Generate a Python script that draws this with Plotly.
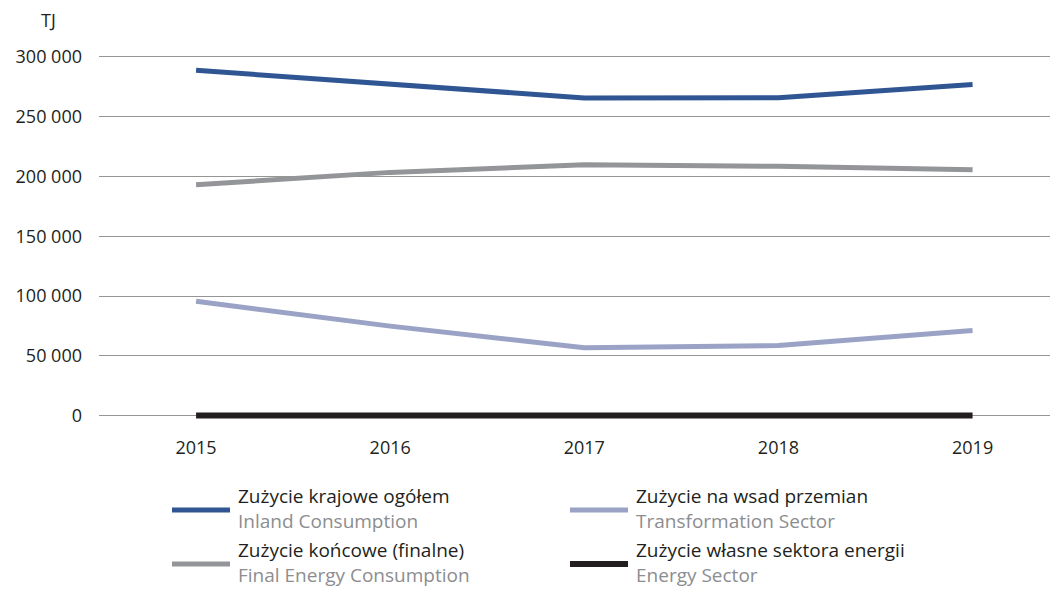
import plotly.graph_objects as go

# data (TJ)
years = ["2015", "2016", "2017", "2018", "2019"]
inland = [288500, 277000, 265500, 265700, 276600]
transformation = [95600, 74900, 56800, 58700, 71300]
final_energy = [193000, 203300, 209700, 208400, 205600]
energy_sector = [300, 300, 300, 300, 300]

names_pl = ["Zużycie krajowe ogółem", "Zużycie na wsad przemian",
            "Zużycie końcowe (finalne)", "Zużycie własne sektora energii"]
names_en = ["Inland Consumption", "Transformation Sector",
            "Final Energy Consumption", "Energy Sector"]
series = [inland, transformation, final_energy, energy_sector]
colors = ["#2f5593", "#9aa3c6", "#939598", "#231f20"]
widths = [5, 5, 5, 6]

FONT = "Open Sans"
TXT = "#231f20"
GREY_TXT = "#8c8d90"

# the page body adds an 8px margin, so the figure is drawn 8px smaller
OFF = 8
W, H = 1058 - OFF, 589 - OFF
L, T = 99 - OFF, 53 - OFF
R, B = 0, 589 - 423
plot_w = W - L - R
plot_h = H - T - B


def px_x(px):
    return (px - OFF - L) / plot_w


def px_y(py):
    return (H - B - (py - OFF)) / plot_h


fig = go.Figure()
for vals, name, col, w in zip(series, names_pl, colors, widths):
    fig.add_trace(go.Scatter(x=years, y=vals, mode="lines", name=name,
                             line=dict(color=col, width=w),
                             showlegend=False))

# hand-made legend: two columns, Polish name over English name
legend_pos = [(172, 508), (570, 508), (172, 562), (570, 562)]
shapes = []
annotations = []
for (lx, ly), pl, en, col, w in zip(legend_pos, names_pl, names_en, colors, widths):
    shapes.append(dict(type="line", xref="paper", yref="paper",
                       x0=px_x(lx), x1=px_x(lx + 58), y0=px_y(ly + 2), y1=px_y(ly + 2),
                       line=dict(color=col, width=w)))
    annotations.append(dict(xref="paper", yref="paper", x=px_x(lx + 64), y=px_y(ly),
                            text=f"{pl}<br><span style='color:{GREY_TXT}'>{en}</span>",
                            showarrow=False, xanchor="left", yanchor="middle", align="left",
                            font=dict(family=FONT, size=19, color=TXT)))

annotations.append(dict(xref="paper", yref="paper", x=px_x(48), y=px_y(20),
                        text="TJ", showarrow=False, xanchor="center", yanchor="middle",
                        font=dict(family=FONT, size=18, color=TXT)))

fig.update_layout(
    width=W, height=H,
    margin=dict(l=L, r=R, t=T, b=B),
    plot_bgcolor="white", paper_bgcolor="white",
    font=dict(family=FONT, size=18, color=TXT),
    separators=", ",
    shapes=shapes,
    annotations=annotations,
    xaxis=dict(type="category", range=[-0.5, 4.44], showgrid=False,
               showline=False, zeroline=False, ticks="", ticklabelstandoff=12,
               tickfont=dict(family=FONT, size=18, color=TXT)),
    yaxis=dict(range=[-6000, 303000], dtick=50000, tick0=0, tickformat=",d",
               showgrid=True, gridcolor="#959595", gridwidth=1,
               zeroline=False, showline=False, ticks="", ticklabelstandoff=16,
               tickfont=dict(family=FONT, size=18, color=TXT)),
)

fig.write_html("out.html")
